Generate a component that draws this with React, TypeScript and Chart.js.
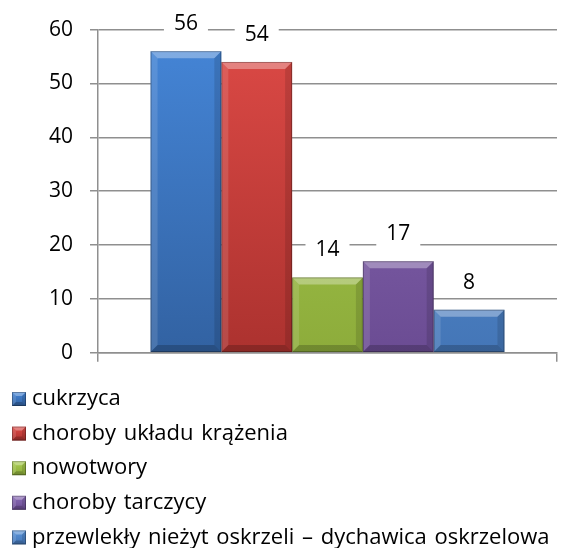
import React, { useEffect, useRef } from "react";
import { Chart, registerables } from "chart.js";

Chart.register(...registerables);

const categories = [""];
const seriesNames = [
  "cukrzyca",
  "choroby układu krążenia",
  "nowotwory",
  "choroby tarczycy",
  "przewlekły nieżyt oskrzeli – dychawica oskrzelowa",
];
const seriesValues = [56, 54, 14, 17, 8];
const yTicks = [0, 10, 20, 30, 40, 50, 60];
const topColors = ["#4586d8", "#dd4a46", "#a9cd4f", "#8a6bb6", "#5a94da"];
const bottomColors = ["#3262a2", "#ac322f", "#8dac3b", "#6b4c93", "#4476b7"];

const FONT = "'Open Sans', Lato, sans-serif";
const FS = 21;
const LEGEND_FS = 22;

function gradientFor(ctx: CanvasRenderingContext2D, i: number, top: number, bottom: number) {
  const g = ctx.createLinearGradient(0, top, 0, bottom);
  g.addColorStop(0, topColors[i]);
  g.addColorStop(1, bottomColors[i]);
  return g;
}

function bevel(ctx: CanvasRenderingContext2D, left: number, top: number, right: number, bottom: number, b: number) {
  ctx.save();
  ctx.fillStyle = "rgba(255,255,255,0.32)";
  ctx.beginPath();
  ctx.moveTo(left, top); ctx.lineTo(right, top); ctx.lineTo(right - b, top + b); ctx.lineTo(left + b, top + b); ctx.closePath(); ctx.fill();
  ctx.fillStyle = "rgba(255,255,255,0.12)";
  ctx.beginPath();
  ctx.moveTo(left, top); ctx.lineTo(left + b, top + b); ctx.lineTo(left + b, bottom - b); ctx.lineTo(left, bottom); ctx.closePath(); ctx.fill();
  ctx.fillStyle = "rgba(0,0,0,0.12)";
  ctx.beginPath();
  ctx.moveTo(right, top); ctx.lineTo(right - b, top + b); ctx.lineTo(right - b, bottom - b); ctx.lineTo(right, bottom); ctx.closePath(); ctx.fill();
  ctx.fillStyle = "rgba(0,0,0,0.2)";
  ctx.beginPath();
  ctx.moveTo(left, bottom); ctx.lineTo(left + b, bottom - b); ctx.lineTo(right - b, bottom - b); ctx.lineTo(right, bottom); ctx.closePath(); ctx.fill();
  ctx.strokeStyle = "rgba(0,0,0,0.28)";
  ctx.lineWidth = 1;
  ctx.strokeRect(left + 0.5, top + 0.5, right - left - 1, bottom - top - 1);
  ctx.restore();
}

const barDecor = {
  id: "barDecor",
  afterDatasetsDraw(chart: any) {
    const ctx = chart.ctx as CanvasRenderingContext2D;
    chart.data.datasets.forEach((ds: any, i: number) => {
      const meta = chart.getDatasetMeta(i);
      meta.data.forEach((bar: any, j: number) => {
        const w = bar.width;
        const left = bar.x - w / 2;
        const right = bar.x + w / 2;
        const top = bar.y;
        const bottom = bar.base;
        bevel(ctx, left, top, right, bottom, 7);
        const txt = String(ds.data[j]);
        ctx.save();
        ctx.font = `${FS}px ${FONT}`;
        const tw = ctx.measureText(txt).width;
        const cy = top - 27;
        ctx.fillStyle = "#ffffff";
        ctx.fillRect(bar.x - tw / 2 - 10, cy - 12, tw + 20, 24);
        ctx.fillStyle = "#000000";
        ctx.textAlign = "center";
        ctx.textBaseline = "middle";
        ctx.fillText(txt, bar.x, cy);
        ctx.restore();
      });
    });
  },
  afterDraw(chart: any) {
    const ctx = chart.ctx as CanvasRenderingContext2D;
    ctx.save();
    chart.data.datasets.forEach((ds: any, i: number) => {
      const cy = 399 + i * 34.6;
      const bx = 12;
      const s = 14;
      const top = cy - s / 2;
      ctx.fillStyle = gradientFor(ctx, i, top, top + s);
      ctx.fillRect(bx, top, s, s);
      bevel(ctx, bx, top, bx + s, top + s, 4);
      ctx.fillStyle = "#000000";
      ctx.font = `${LEGEND_FS}px ${FONT}`;
      try {
        (ctx as any).wordSpacing = "2px";
      } catch (e) {}
      ctx.textAlign = "left";
      ctx.textBaseline = "middle";
      ctx.fillText(ds.label, 32, cy);
    });
    ctx.restore();
  },
};

export default function App() {
  const ref = useRef<HTMLCanvasElement>(null);
  useEffect(() => {
    if (!ref.current) return;
    const chart = new Chart(ref.current, {
      type: "bar",
      data: {
        labels: categories,
        datasets: seriesNames.map((name, i) => ({
          label: name,
          data: [seriesValues[i]],
          backgroundColor: (c: any) => {
            const ch = c.chart;
            const area = ch.chartArea;
            if (!area) return topColors[i];
            const el = c.element;
            const top = el && typeof el.y === "number" ? el.y : area.top;
            return gradientFor(ch.ctx, i, top, area.bottom);
          },
          borderWidth: 0,
          barPercentage: 1,
          categoryPercentage: 0.771,
        })),
      },
      options: {
        animation: false,
        responsive: true,
        maintainAspectRatio: false,
        layout: { padding: { top: 14.5, right: 20, bottom: 179, left: 0 } },
        plugins: {
          legend: { display: false },
          tooltip: { enabled: false },
        },
        scales: {
          x: {
            grid: {
              offset: true,
              drawOnChartArea: false,
              drawTicks: true,
              tickLength: 9,
              color: "#8f8f8f",
              lineWidth: 1.5,
            },
            border: { color: "#8f8f8f", width: 1.5 },
            ticks: { display: true, font: { size: 1 } },
          },
          y: {
            min: 0,
            max: 60,
            afterBuildTicks: (axis: any) => {
              axis.ticks = yTicks.map((v) => ({ value: v }));
            },
            afterFit: (axis: any) => {
              axis.width = 98;
            },
            grid: { color: "#8f8f8f", tickLength: 8, lineWidth: 1.5 },
            border: { color: "#8f8f8f", width: 1.5 },
            ticks: {
              color: "#000000",
              padding: 17,
              font: { family: FONT, size: FS },
            },
          },
        },
      },
      plugins: [barDecor],
    });
    return () => chart.destroy();
  }, []);
  return (
    <div style={{ position: "fixed", left: 0, top: 0, width: 577, height: 548, background: "#fff" }}>
      <canvas ref={ref} />
    </div>
  );
}
